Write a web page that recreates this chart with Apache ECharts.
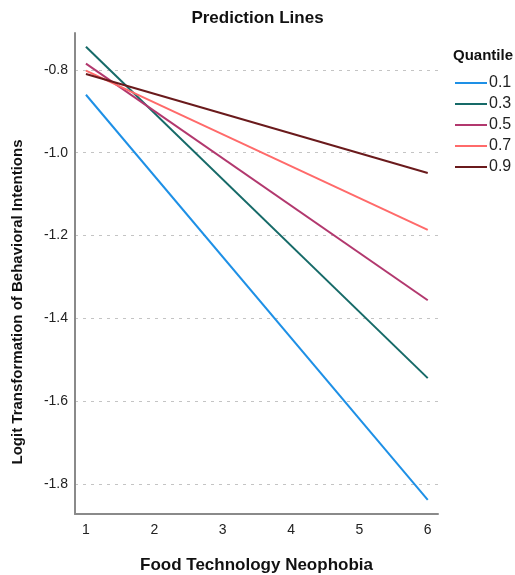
<!DOCTYPE html>
<html><head><meta charset="utf-8">
<script src="https://cdn.jsdelivr.net/npm/echarts@6/dist/echarts.min.js"></script>
<style>html,body{margin:0;padding:0;background:#fff}#c{width:515px;height:575px}</style>
</head><body><div id="c"></div>
<script>
const xValues = [1, 6];
const quantiles = ['0.1', '0.3', '0.5', '0.7', '0.9'];
const q01 = [-0.860, -1.838];
const q03 = [-0.744, -1.544];
const q05 = [-0.785, -1.356];
const q07 = [-0.802, -1.186];
const q09 = [-0.810, -1.049];
const xTicks = [1, 2, 3, 4, 5, 6];
const yTicks = [-1.8, -1.6, -1.4, -1.2, -1.0, -0.8];

const seriesValues = [q01, q03, q05, q07, q09];
const colors = ['#1e90e6', '#166a68', '#b2386e', '#ff6a6a', '#6a1a1c'];
const font = 'Liberation Sans, Arial, sans-serif';

const chart = echarts.init(document.getElementById('c'), null, {renderer: 'canvas'});
chart.setOption({
  animation: false,
  title: {text: 'Prediction Lines', left: 'center', top: 5,
    textStyle: {fontFamily: font, fontSize: 17, fontWeight: 'bold', color: '#111'}},
  grid: {left: 75, right: 77, top: 33, bottom: 61, containLabel: false, outerBoundsMode: 'none'},
  legend: {
    orient: 'vertical', left: 450, top: 70, itemWidth: 32, itemHeight: 14, itemGap: 5,
    icon: 'path://M0,6 L32,6 L32,8 L0,8 Z',
    textStyle: {fontFamily: font, fontSize: 16, lineHeight: 14, color: '#222', padding: [0,0,0,-3]},
    data: quantiles
  },
  graphic: [
    {type: 'text', left: 453, top: 48, style: {text: 'Quantile', fontFamily: font, fontSize: 15, fontWeight: 'bold', fill: '#111'}},
    {type: 'text', x: 10, y: 302, rotation: Math.PI / 2,
      style: {text: 'Logit Transformation of Behavioral Intentions', fontFamily: font, fontSize: 15, fontWeight: 'bold', fill: '#111', align: 'center', verticalAlign: 'top'}}
  ],
  xAxis: {
    type: 'value', min: 0.84, max: 6.15,
    name: 'Food Technology Neophobia', nameLocation: 'middle', nameGap: 43,
    nameTextStyle: {fontFamily: font, fontSize: 17, fontWeight: 'bold', color: '#111'},
    axisLine: {show: true, onZero: false, lineStyle: {color: '#8a8a8a', width: 2}},
    axisTick: {show: false, customValues: xTicks},
    axisLabel: {customValues: xTicks, fontFamily: font, fontSize: 14, color: '#222', margin: 9},
    splitLine: {show: false}
  },
  yAxis: {
    type: 'value', min: -1.872, max: -0.711,
    axisLine: {show: true, onZero: false, lineStyle: {color: '#8a8a8a', width: 2}},
    axisTick: {show: false, customValues: yTicks},
    axisLabel: {customValues: yTicks, fontFamily: font, fontSize: 14, color: '#222', margin: 7,
      formatter: v => v.toFixed(1)},
    splitLine: {show: true, lineStyle: {color: '#c4c4c4', type: [3, 5], width: 1}}
  },
  series: quantiles.map((q, i) => ({
    name: q, type: 'line', symbol: 'none', showSymbol: false,
    data: xValues.map((x, j) => [x, seriesValues[i][j]]),
    lineStyle: {color: colors[i], width: 2}, itemStyle: {color: colors[i]}
  }))
});
</script></body></html>
